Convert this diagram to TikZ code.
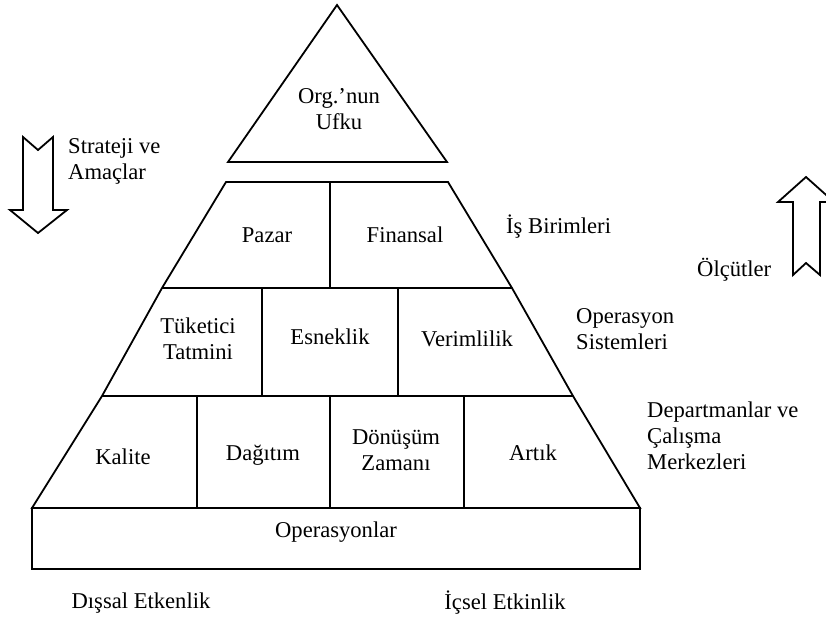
\documentclass[tikz,border=0pt]{standalone}
\usepackage{fontspec}
\setmainfont{Liberation Serif}
\begin{document}
\begin{tikzpicture}[x=1pt,y=-1pt,
  frame/.style={line width=1.8pt, line join=miter},
  lbl/.style={font=\fontsize{22.6}{26}\selectfont, inner sep=0pt, align=center},
  side/.style={lbl, align=left, anchor=west}]
\useasboundingbox (0,0) rectangle (826,619);

% corner points of the pyramid tiers
\coordinate (apex) at (337,5);
\coordinate (t1l)  at (228,162);
\coordinate (t1r)  at (447,162);
\coordinate (t2tl) at (226,182);
\coordinate (t2tr) at (448,182);
\coordinate (t2bl) at (162,288);
\coordinate (t2br) at (512,288);
\coordinate (t3bl) at (102,396);
\coordinate (t3br) at (573,396);
\coordinate (t4bl) at (32,508);
\coordinate (t4br) at (640,508);
\coordinate (bbr)  at (640,569);

% top triangle
\draw[frame] (apex) -- (t1r) -- (t1l) -- cycle;
% three lower tiers
\draw[frame] (t2tl) -- (t2tr) -- (t2br) -- (t3br) -- (t4br) -- (t4bl) -- (t3bl) -- (t2bl) -- cycle;
\draw[frame] (t2bl) -- (t2br);
\draw[frame] (t3bl) -- (t3br);
% base block
\draw[frame] (t4bl) rectangle (bbr);

% cell dividers
\draw[frame] (330,182) -- (330,288);
\draw[frame] (262,288) -- (262,396);
\draw[frame] (398,288) -- (398,396);
\draw[frame] (197,396) -- (197,508);
\draw[frame] (330,396) -- (330,508);
\draw[frame] (464,396) -- (464,508);

% block arrows
\draw[frame] (23,137) -- (38,150) -- (53,137) -- (53,210) -- (67,210) -- (38,233)
  -- (10,210) -- (23,210) -- cycle;
\draw[frame] (793,275) -- (806,263) -- (820,275) -- (820,202) -- (834,202) -- (806,177)
  -- (778,202) -- (793,202) -- cycle;

% labels inside the pyramid
\node[lbl] (ufuk) at (339,109) {Org.’nun\\Ufku};
\node[lbl] (pazar) at (267,235) {Pazar};
\node[lbl] (finans) at (405,235) {Finansal};
\node[lbl] (tuket) at (198,339) {Tüketici\\Tatmini};
\node[lbl] (esnek) at (330,337) {Esneklik};
\node[lbl] (verim) at (467,339) {Verimlilik};
\node[lbl] (kalite) at (123,457) {Kalite};
\node[lbl] (dagit) at (263,455) {Dağıtım};
\node[lbl] (donus) at (396,450) {Dönüşüm\\Zamanı};
\node[lbl] (artik) at (533,453) {Artık};
\node[lbl] (oper) at (336,532) {Operasyonlar};

% side labels
\node[side] (strat) at (68,161) {Strateji ve\\Amaçlar};
\node[side] (isbir) at (506,227) {İş Birimleri};
\node[side] (olcut) at (697,270) {Ölçütler};
\node[side] (opsis) at (576,329) {Operasyon\\Sistemleri};
\node[side] (depart) at (647,436) {Departmanlar ve\\Çalışma\\Merkezleri};

% bottom labels
\node[lbl] (dissal) at (141,603) {Dışsal Etkenlik};
\node[lbl] (icsel) at (505,603) {İçsel Etkinlik};
\end{tikzpicture}
\end{document}
